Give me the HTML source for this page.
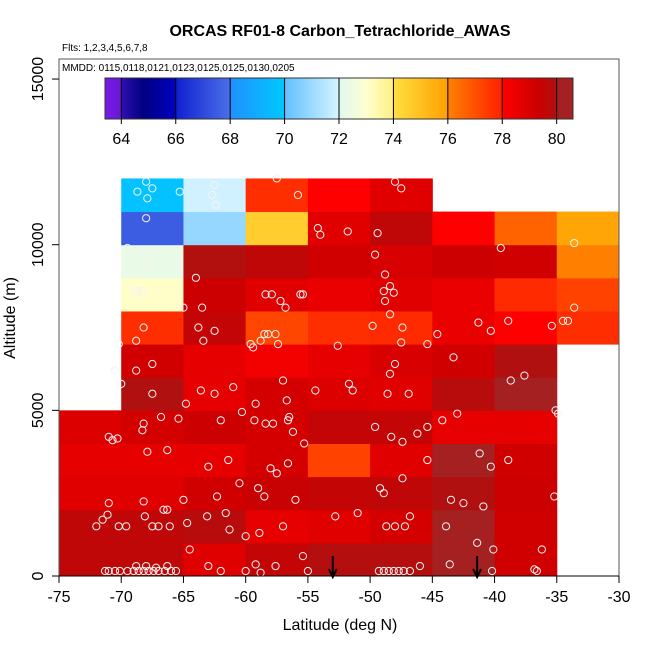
<!DOCTYPE html>
<html><head><meta charset="utf-8"><style>
body{margin:0;background:#fff;}
svg{display:block;font-family:"Liberation Sans",sans-serif;}
</style></head><body>
<svg id="chart" width="650" height="650" viewBox="0 0 650 650" xmlns="http://www.w3.org/2000/svg">
<text x="340" y="36" text-anchor="middle" font-size="16" font-weight="bold">ORCAS RF01-8 Carbon_Tetrachloride_AWAS</text>
<text x="62" y="51" font-size="10">Flts: 1,2,3,4,5,6,7,8</text>
<g id="cells"></g>
<g id="pts"></g>
<g id="arrows"></g>
<rect x="59" y="59" width="560" height="517" fill="none" stroke="#555" stroke-width="1"/>
<text x="62" y="71" font-size="10">MMDD: 0115,0118,0121,0123,0125,0125,0130,0205</text>
<defs><linearGradient id="cbg" x1="0" x2="1" y1="0" y2="0"></linearGradient></defs>
<g id="cbar"></g>
<g id="xaxis"></g>
<g id="yaxis"></g>
<text x="340" y="630" text-anchor="middle" font-size="16">Latitude (deg N)</text>
<text transform="translate(15,318) rotate(-90)" text-anchor="middle" font-size="16">Altitude (m)</text>
</svg>
<script>
// ---- data ----
const latBins = [-75,-70,-65,-60,-55,-50,-45,-40,-35];
const altBins = [0,1000,2000,3000,4000,5000,6000,7000,8000,9000,10000,11000];
// values[row][col], row = altitude bin, col = latitude bin; null = no data
const row0  = [79.6,79.6,78.8,79.5,79.9,79.9,80.5,79.2,null];
const row1  = [79.6,79.6,79.8,78.6,78.8,79.1,80.5,79.2,null];
const row2  = [78.8,78.8,79.2,79.4,79.5,79.6,79.98,79.3,null];
const row3  = [78.6,78.6,78.6,79.1,77.3,78.8,80.6,79.2,null];
const row4  = [78.9,79.1,79.3,79.1,79.5,79.5,78.6,78.6,null];
const row5  = [null,79.98,78.6,79.1,78.9,78.8,79.8,80.5,null];
const row6  = [null,79.2,78.6,78.3,78.6,79.0,79.2,79.98,null];
const row7  = [null,77.7,79.5,77.2,77.7,77.8,78.5,78.0,77.7];
const row8  = [null,73.1,79.3,78.8,78.5,78.8,78.5,77.8,77.3];
const row9  = [null,72.3,79.95,79.6,79.2,79.0,79.3,79.2,76.0];
const row10 = [null,67.5,70.9,74.6,78.8,79.6,78.0,76.6,75.8];
const row11 = [null,69.8,71.9,77.7,78.0,78.8,null,null,null];
const gridValues = [row0,row1,row2,row3,row4,row5,row6,row7,row8,row9,row10,row11];
const ptLat = [-68,-67.5,-68.7,-67.9,-65.3,-62.5,-62.7,-62.4,-57.5,-55.8,-48,-47.5,
 -68,-54.2,-54,-51.8,-49.4,-39.5,-33.6,
 -69.5,-68,-68,-65.5,-64,-49.6,-48.8,
 -69,-68.7,-68.3,-65,-63.5,-58.4,-57.9,-57.2,-56.8,-55.6,-55.4,-48.9,-48.4,-48.1,-48.8,-48.4,-33.6,
 -68.2,-68.8,-70.2,-62.5,-63.8,-63.4,-58.8,-58.5,-58.2,-57.6,-59.4,-59.6,-57.4,-52.6,-47.5,-47.4,-49.8,-44.6,-45.4,-41.3,-40.3,-38.9,-35.4,-34.5,-34.1,
 -67.5,-70.5,-68.8,-70,-57,-51.7,-51.4,-48.4,-48,-43.3,-38.7,-37.6,
 -67.5,-64.8,-63.6,-62.5,-61,-59.2,-56.7,-54.4,-48.6,-46.9,-35.1,
 -71,-70.7,-70.3,-68.2,-68.3,-66.8,-65.4,-62,-60.3,-59.3,-58.4,-57.8,-56.5,-56.6,-56.2,-55.3,-49.6,-47.4,-48.3,-46.2,-45.4,-44.2,-43,-34.9,
 -67.9,-66.3,-63,-61.4,-58,-57.5,-56.6,-45.4,-41.2,-40.3,-38.9,
 -71,-68.2,-66.6,-66.3,-65,-62.3,-61.6,-60.5,-59,-58.5,-56,-49.2,-47.4,-48.9,
 -72,-71.5,-71.1,-70.2,-69.6,-68.1,-67.5,-67,-66.1,-64.7,-63.1,-61.3,-60,-58.9,-57,-52.8,-51,-48.7,-48,-47.2,-46.8,-43.9,-42.5,-40.9,-43.5,-41.4,-35.2,
 -71.3,-71,-70.5,-70.1,-69.5,-69,-68.6,-68.2,-67.8,-67.4,-67,-66.5,-66,-65.6,-68.8,-68,-67.2,-66.3,
 -64.5,-63,-62,-60,-59.2,-58.8,-57.6,-55.4,-55,-49.3,-48.9,-48.5,-48.1,-47.7,-47.3,-46.8,-46,-43.6,-40.2,-40.1,-36.8,-36.6,-36.2];
const ptAlt = [11900,11700,11600,11400,11600,11800,11500,11200,12000,11500,11900,11700,
 10800,10500,10300,10400,10350,9900,10050,
 9900,9700,9500,9400,9000,9700,9100,
 8600,8600,8600,8100,8100,8500,8500,8300,8100,8500,8500,8600,8750,8550,8300,7900,8100,
 7500,7100,7000,7400,7500,7100,7100,7300,7300,7300,6900,7000,7000,6950,7050,7500,7550,7300,7000,7650,7400,7700,7550,7700,7700,
 6400,6200,6200,5800,5900,5800,5600,6100,6400,6600,5900,6050,
 5500,5200,5600,5500,5700,5200,5300,5600,5500,5500,5000,
 4200,4100,4150,4600,4400,4800,4750,4700,4950,4700,4600,4600,4800,4700,4350,4000,4500,4050,4200,4300,4500,4700,4900,4900,
 3750,3800,3300,3500,3250,3100,3400,3500,3700,3300,3500,
 2200,2250,2000,2000,2300,2400,1900,2800,2650,2400,2300,2650,2950,2500,
 1500,1700,1850,1500,1500,1800,1500,1500,1500,1600,1800,1400,1200,1300,1500,1800,1900,1500,1500,1500,1800,1500,2200,2100,2300,1000,2400,
 150,150,150,150,150,150,150,150,150,150,150,150,150,150,300,300,250,300,
 800,300,150,150,350,100,300,600,150,150,150,150,150,150,150,150,300,350,150,800,200,150,800];
const arrowLats = [-53,-41.4];
const cbTicks = [64,66,68,70,72,74,76,78,80];
const xTicks = [-75,-70,-65,-60,-55,-50,-45,-40,-35,-30];
const yTicks = [0,5000,10000,15000];

// ---- scales ----
const X = v => 59 + (v + 75) * (560/45);
const Y = a => 576 - a * 0.03313;
const CBX = v => 105 + (v - 63.4) * (468/17.2);
const stops = [[63.4,'#7a1ae8'],[64,'#6618d4'],[64,'#3010b0'],[64.8,'#000080'],[66,'#0000c0'],[66,'#1020d0'],[68,'#4a70e8'],[68,'#2090ff'],[70,'#00c8ff'],[70,'#60c0ff'],[72,'#d6f4ff'],[72,'#e0f8f0'],[73,'#ffffd0'],[74,'#fff080'],[74,'#ffe040'],[75,'#ffc020'],[76,'#ffa000'],[76,'#ff8000'],[78,'#ff2000'],[78,'#ff0000'],[79.3,'#cc0000'],[80,'#b01010'],[80,'#a52020'],[80.6,'#a52020']];
function hex(c){return [1,3,5].map(i=>parseInt(c.substr(i,2),16));}
function cmap(v){
  if(v<=stops[0][0])return stops[0][1];
  for(let i=0;i<stops.length-1;i++){
    const a=stops[i],b=stops[i+1];
    if(v>=a[0]&&v<b[0]){const t=(v-a[0])/(b[0]-a[0]);const A=hex(a[1]),B=hex(b[1]);
      return 'rgb('+A.map((x,k)=>Math.round(x+(B[k]-x)*t)).join(',')+')';}
  }
  return stops[stops.length-1][1];
}
const NS='http://www.w3.org/2000/svg';
function mk(tag,attrs,parent){const e=document.createElementNS(NS,tag);for(const k in attrs)e.setAttribute(k,attrs[k]);parent.appendChild(e);return e;}

// cells
const cells=document.getElementById('cells');
gridValues.forEach((row,r)=>row.forEach((v,c)=>{
  if(v===null)return;
  const x0=X(latBins[c]),x1=X(latBins[c]+5),y0=Y(altBins[r]+1000),y1=Y(altBins[r]);
  const e=mk('rect',{x:x0,y:y0,width:x1-x0+0.5,height:y1-y0+0.5,fill:cmap(v)},cells);
  
  
}));
// points
const pts=document.getElementById('pts');
ptLat.forEach((la,i)=>{
  const e=mk('circle',{cx:X(la),cy:Y(ptAlt[i]),r:3.6,fill:'none',stroke:'#f4f4f4','stroke-width':1},pts);
  
  
});
// arrows
const arr=document.getElementById('arrows');
arrowLats.forEach(la=>{
  const g=mk('g',{},arr);
  
  
  const x=X(la);
  mk('line',{x1:x,y1:556,x2:x,y2:576,stroke:'#000','stroke-width':2},g);
  mk('path',{d:`M${x-4},${569} L${x},${577} L${x+4},${569}`,fill:'none',stroke:'#000','stroke-width':2},g);
});
// colorbar
const grad=document.getElementById('cbg');
stops.forEach(s=>mk('stop',{offset:((s[0]-63.4)/17.2*100)+'%','stop-color':s[1]},grad));
const cb=document.getElementById('cbar');
const cbr=mk('rect',{x:105,y:78,width:468,height:41,fill:'url(#cbg)',stroke:'#333','stroke-width':1},cb);


cbTicks.forEach(t=>{
  const x=CBX(t);
  mk('line',{x1:x,y1:78,x2:x,y2:124,stroke:'#000','stroke-width':1},cb);
  const tx=mk('text',{x:x,y:144,'text-anchor':'middle','font-size':16},cb);
  tx.textContent=t;
  
  
});
// x axis
const xa=document.getElementById('xaxis');
mk('line',{x1:X(-75),y1:576,x2:X(-30),y2:576,stroke:'#000'},xa);
xTicks.forEach(t=>{
  const x=X(t);
  mk('line',{x1:x,y1:576,x2:x,y2:583,stroke:'#000'},xa);
  const tx=mk('text',{x:x,y:602,'text-anchor':'middle','font-size':16},xa);
  tx.textContent=t;
  
  
});
// y axis
const ya=document.getElementById('yaxis');
yTicks.forEach(t=>{
  const y=Y(t);
  mk('line',{x1:52,y1:y,x2:59,y2:y,stroke:'#000'},ya);
  const tx=mk('text',{transform:`translate(43,${y}) rotate(-90)`,'text-anchor':'middle','font-size':16},ya);
  tx.textContent=t;
  
  
});
</script>
</body></html>
